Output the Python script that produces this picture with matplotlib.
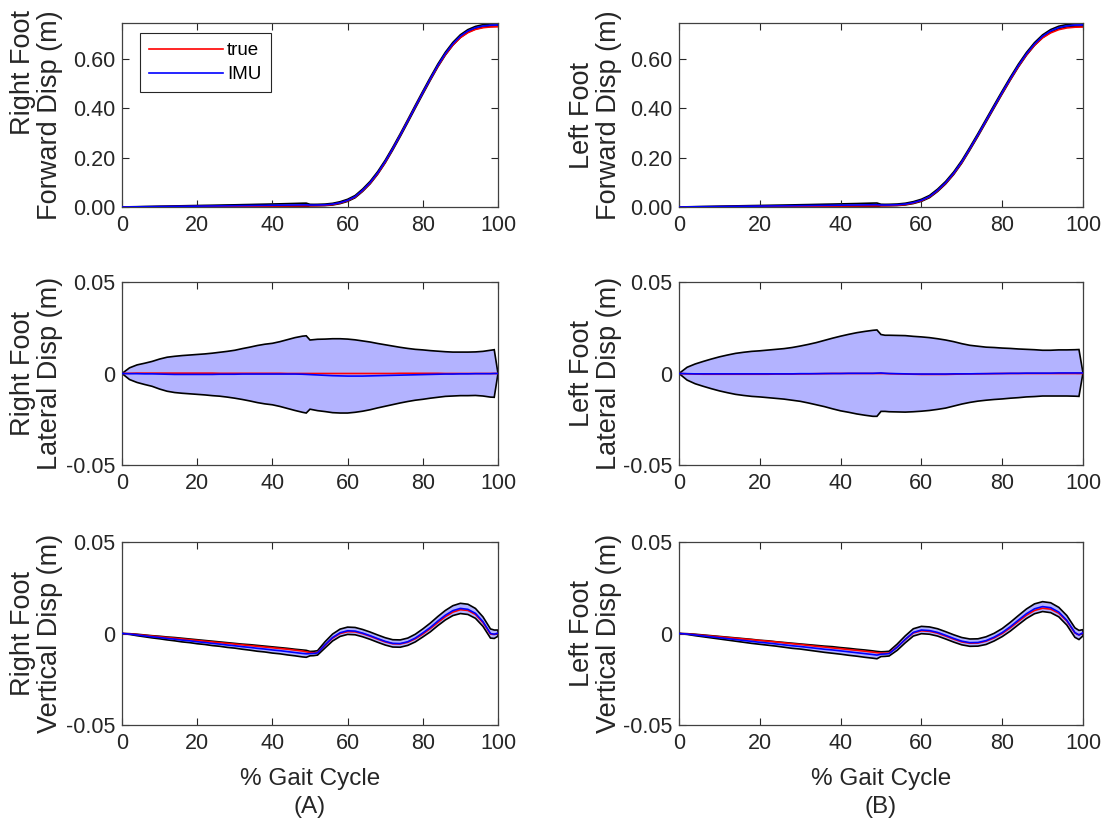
import numpy as np
import matplotlib
matplotlib.use("Agg")
import matplotlib.pyplot as plt

plt.rcParams['font.family'] = ['Liberation Sans', 'DejaVu Sans']
plt.rcParams['axes.unicode_minus'] = False

# % gait cycle sample points
gait_pct = [0, 2, 4, 6, 8, 10, 12, 14, 16, 18,
            20, 22, 24, 26, 28, 30, 32, 34, 36, 38,
            40, 42, 44, 46, 48, 49, 50, 51,
            52, 54, 56, 58, 60, 62, 64, 66, 68, 70,
            72, 74, 76, 78, 80, 82, 84, 86, 88, 90,
            92, 94, 96, 98, 99, 100]

# ---------------- Right foot ----------------
rf_fwd_true = [0, 0.0002, 0.0004, 0.0006, 0.0008, 0.0010, 0.0012, 0.0014, 0.0016, 0.0018,
               0.0020, 0.0022, 0.0024, 0.0026, 0.0028, 0.0030, 0.0032, 0.0034, 0.0036, 0.0038,
               0.0040, 0.0042, 0.0044, 0.0046, 0.0048, 0.0049, 0.0050, 0.0052,
               0.0056, 0.0068, 0.0098, 0.0160, 0.0255, 0.0405, 0.0660, 0.0965, 0.1350, 0.1810,
               0.2350, 0.2905, 0.3480, 0.4055, 0.4620, 0.5170, 0.5700, 0.6170, 0.6560, 0.6860,
               0.7060, 0.7190, 0.7260, 0.7290, 0.7295, 0.7300]
rf_fwd_imu = [0, 0.0004, 0.0007, 0.0011, 0.0014, 0.0018, 0.0021, 0.0025, 0.0028, 0.0032,
              0.0035, 0.0039, 0.0042, 0.0046, 0.0050, 0.0053, 0.0057, 0.0060, 0.0064, 0.0067,
              0.0071, 0.0074, 0.0078, 0.0081, 0.0085, 0.0086, 0.0078, 0.0078,
              0.0080, 0.0088, 0.0115, 0.0175, 0.0270, 0.0420, 0.0680, 0.0990, 0.1380, 0.1840,
              0.2360, 0.2910, 0.3480, 0.4060, 0.4630, 0.5190, 0.5730, 0.6210, 0.6610, 0.6920,
              0.7130, 0.7260, 0.7330, 0.7360, 0.7365, 0.7370]
rf_fwd_sd = [0, 0.0003, 0.0006, 0.0009, 0.0012, 0.0015, 0.0017, 0.0019, 0.0021, 0.0023,
             0.0025, 0.0027, 0.0029, 0.0031, 0.0033, 0.0035, 0.0038, 0.0041, 0.0044, 0.0047,
             0.0050, 0.0054, 0.0058, 0.0063, 0.0068, 0.0070, 0.0030, 0.0028,
             0.0028, 0.0030, 0.0034, 0.0038, 0.0042, 0.0045, 0.0048, 0.0050, 0.0052, 0.0054,
             0.0055, 0.0056, 0.0057, 0.0058, 0.0058, 0.0058, 0.0057, 0.0056, 0.0055, 0.0054,
             0.0053, 0.0052, 0.0052, 0.0052, 0.0052, 0.0052]

rf_lat_true = [0, 0.0001, 0.0002, 0.0002, 0.0002, 0.0002, 0.0002, 0.0002, 0.0002, 0.0002,
               0.0002, 0.0002, 0.0002, 0.0001, 0.0001, 0.0001, 0.0001, 0.0001, 0.0001, 0.0001,
               0.0001, 0.0001, 0, 0, 0, 0, 0, 0,
               0, 0, 0, 0, 0, 0, 0, 0, 0, 0,
               0, 0.0001, 0.0001, 0.0001, 0.0001, 0.0001, 0.0001, 0, 0, 0,
               0, 0, 0, 0, 0, 0]
rf_lat_imu = [0, -0.0001, -0.0001, -0.0002, -0.0002, -0.0003, -0.0004, -0.0005, -0.0005, -0.0005,
              -0.0005, -0.0005, -0.0005, -0.0004, -0.0004, -0.0004, -0.0003, -0.0003, -0.0003, -0.0003,
              -0.0003, -0.0003, -0.0003, -0.0003, -0.0004, -0.0005, -0.0006, -0.0007,
              -0.0008, -0.0010, -0.0012, -0.0013, -0.0014, -0.0014, -0.0014, -0.0013, -0.0012, -0.0011,
              -0.0010, -0.0009, -0.0008, -0.0007, -0.0006, -0.0005, -0.0004, -0.0003, -0.0003, -0.0002,
              -0.0002, -0.0001, -0.0001, -0.0001, 0, 0]
rf_lat_sd = [0, 0.0032, 0.0048, 0.0058, 0.0068, 0.0082, 0.0093, 0.0099, 0.0103, 0.0106,
             0.0109, 0.0112, 0.0116, 0.0120, 0.0125, 0.0131, 0.0139, 0.0147, 0.0156, 0.0163,
             0.0168, 0.0177, 0.0188, 0.0199, 0.0208, 0.0211, 0.0189, 0.0192,
             0.0195, 0.0198, 0.0202, 0.0203, 0.0202, 0.0198, 0.0192, 0.0185, 0.0176, 0.0168,
             0.0160, 0.0152, 0.0145, 0.0139, 0.0135, 0.0130, 0.0126, 0.0122, 0.0120, 0.0119,
             0.0119, 0.0119, 0.0122, 0.0128, 0.0130, 0]

rf_vert_true = [0, -0.0002, -0.0006, -0.0010, -0.0014, -0.0018, -0.0022, -0.0026, -0.0030, -0.0034,
                -0.0038, -0.0042, -0.0046, -0.0050, -0.0054, -0.0058, -0.0062, -0.0066, -0.0070, -0.0074,
                -0.0078, -0.0082, -0.0086, -0.0091, -0.0096, -0.0100, -0.0104, -0.0106,
                -0.0104, -0.0064, -0.0025, 0.0000, 0.0010, 0.0009, -0.0001, -0.0015, -0.0031, -0.0046,
                -0.0056, -0.0057, -0.0048, -0.0029, -0.0003, 0.0027, 0.0060, 0.0092, 0.0117, 0.0130,
                0.0126, 0.0104, 0.0060, -0.0003, -0.0005, 0.0001]
rf_vert_imu = [0, -0.0003, -0.0008, -0.0013, -0.0018, -0.0022, -0.0027, -0.0031, -0.0036, -0.0040,
               -0.0045, -0.0049, -0.0054, -0.0058, -0.0063, -0.0067, -0.0072, -0.0076, -0.0081, -0.0085,
               -0.0090, -0.0094, -0.0099, -0.0104, -0.0109, -0.0111, -0.0110, -0.0109,
               -0.0106, -0.0062, -0.0022, 0.0004, 0.0015, 0.0013, 0.0002, -0.0012, -0.0028, -0.0043,
               -0.0054, -0.0055, -0.0045, -0.0025, 0.0003, 0.0033, 0.0068, 0.0100, 0.0125, 0.0137,
               0.0132, 0.0110, 0.0065, 0.0000, -0.0004, 0.0002]
rf_vert_sd = [0, 0.0002, 0.0004, 0.0005, 0.0006, 0.0007, 0.0008, 0.0009, 0.0010, 0.0010,
              0.0011, 0.0011, 0.0012, 0.0012, 0.0013, 0.0013, 0.0014, 0.0015, 0.0016, 0.0016,
              0.0017, 0.0017, 0.0018, 0.0018, 0.0019, 0.0019, 0.0012, 0.0012,
              0.0012, 0.0017, 0.0019, 0.0020, 0.0020, 0.0020, 0.0020, 0.0020, 0.0020, 0.0020,
              0.0020, 0.0020, 0.0020, 0.0021, 0.0022, 0.0024, 0.0025, 0.0026, 0.0027, 0.0028,
              0.0028, 0.0027, 0.0026, 0.0025, 0.0023, 0.0017]

# ---------------- Left foot ----------------
lf_fwd_true = [0, 0.0002, 0.0004, 0.0006, 0.0008, 0.0010, 0.0012, 0.0014, 0.0016, 0.0018,
               0.0020, 0.0022, 0.0024, 0.0026, 0.0028, 0.0030, 0.0032, 0.0034, 0.0036, 0.0038,
               0.0040, 0.0042, 0.0044, 0.0046, 0.0048, 0.0049, 0.0050, 0.0052,
               0.0056, 0.0068, 0.0098, 0.0160, 0.0255, 0.0405, 0.0655, 0.0960, 0.1345, 0.1805,
               0.2345, 0.2900, 0.3475, 0.4050, 0.4610, 0.5160, 0.5690, 0.6160, 0.6550, 0.6850,
               0.7050, 0.7180, 0.7250, 0.7280, 0.7284, 0.7286]
lf_fwd_imu = [0, 0.0004, 0.0008, 0.0012, 0.0015, 0.0019, 0.0023, 0.0026, 0.0030, 0.0034,
              0.0037, 0.0041, 0.0045, 0.0048, 0.0052, 0.0056, 0.0059, 0.0063, 0.0067, 0.0070,
              0.0074, 0.0078, 0.0081, 0.0085, 0.0089, 0.0090, 0.0080, 0.0079,
              0.0081, 0.0090, 0.0118, 0.0178, 0.0272, 0.0422, 0.0675, 0.0985, 0.1370, 0.1830,
              0.2365, 0.2920, 0.3495, 0.4070, 0.4640, 0.5195, 0.5725, 0.6200, 0.6600, 0.6915,
              0.7130, 0.7265, 0.7335, 0.7365, 0.7370, 0.7372]
lf_fwd_sd = [0, 0.0003, 0.0006, 0.0009, 0.0012, 0.0015, 0.0017, 0.0019, 0.0021, 0.0023,
             0.0025, 0.0027, 0.0029, 0.0031, 0.0033, 0.0036, 0.0039, 0.0042, 0.0045, 0.0048,
             0.0051, 0.0055, 0.0059, 0.0064, 0.0069, 0.0071, 0.0030, 0.0028,
             0.0028, 0.0030, 0.0034, 0.0038, 0.0042, 0.0045, 0.0048, 0.0050, 0.0052, 0.0054,
             0.0055, 0.0056, 0.0057, 0.0058, 0.0058, 0.0058, 0.0057, 0.0056, 0.0055, 0.0055,
             0.0055, 0.0054, 0.0054, 0.0054, 0.0054, 0.0054]

lf_lat_true = [0, -0.0002, -0.0003, -0.0004, -0.0004, -0.0004, -0.0004, -0.0004, -0.0004, -0.0004,
               -0.0004, -0.0004, -0.0003, -0.0003, -0.0003, -0.0002, -0.0002, -0.0001, -0.0001, 0,
               0, 0, 0, 0, 0, 0, 0, 0,
               -0.0001, -0.0002, -0.0003, -0.0004, -0.0005, -0.0005, -0.0005, -0.0005, -0.0004, -0.0003,
               -0.0002, -0.0002, -0.0001, -0.0001, 0, 0, 0, 0, 0, 0,
               0, 0, 0, 0, 0, 0]
lf_lat_imu = [0, -0.0001, -0.0002, -0.0002, -0.0002, -0.0002, -0.0002, -0.0002, -0.0002, -0.0002,
              -0.0002, -0.0002, -0.0002, -0.0002, -0.0002, -0.0001, -0.0001, -0.0001, 0, 0,
              0, 0.0001, 0.0001, 0.0001, 0.0001, 0.0002, 0.0003, 0.0001,
              0, -0.0001, -0.0002, -0.0003, -0.0003, -0.0003, -0.0003, -0.0003, -0.0002, -0.0002,
              -0.0002, -0.0001, -0.0001, 0, 0, 0.0001, 0.0001, 0.0002, 0.0002, 0.0002,
              0.0002, 0.0003, 0.0003, 0.0003, 0.0003, 0.0003]
lf_lat_sd = [0, 0.0035, 0.0054, 0.0068, 0.0081, 0.0093, 0.0103, 0.0112, 0.0118, 0.0123,
             0.0126, 0.0130, 0.0134, 0.0138, 0.0144, 0.0151, 0.0160, 0.0170, 0.0181, 0.0193,
             0.0204, 0.0213, 0.0222, 0.0229, 0.0235, 0.0236, 0.0210, 0.0208,
             0.0209, 0.0209, 0.0209, 0.0206, 0.0203, 0.0199, 0.0193, 0.0186, 0.0176, 0.0165,
             0.0156, 0.0150, 0.0145, 0.0142, 0.0139, 0.0136, 0.0133, 0.0130, 0.0128, 0.0125,
             0.0125, 0.0126, 0.0126, 0.0127, 0.0128, 0]

lf_vert_true = [0, -0.0002, -0.0006, -0.0010, -0.0014, -0.0018, -0.0022, -0.0026, -0.0030, -0.0034,
                -0.0038, -0.0042, -0.0046, -0.0051, -0.0056, -0.0060, -0.0065, -0.0070, -0.0074, -0.0079,
                -0.0083, -0.0088, -0.0092, -0.0097, -0.0102, -0.0105, -0.0107, -0.0108,
                -0.0107, -0.0074, -0.0033, 0.0003, 0.0015, 0.0012, 0.0002, -0.0014, -0.0031, -0.0046,
                -0.0053, -0.0052, -0.0042, -0.0024, 0.0000, 0.0031, 0.0066, 0.0100, 0.0126, 0.0138,
                0.0133, 0.0111, 0.0068, 0.0003, -0.0008, 0.0003]
lf_vert_imu = [0, -0.0003, -0.0008, -0.0013, -0.0018, -0.0023, -0.0028, -0.0033, -0.0038, -0.0043,
               -0.0048, -0.0052, -0.0057, -0.0062, -0.0067, -0.0071, -0.0076, -0.0081, -0.0086, -0.0090,
               -0.0095, -0.0100, -0.0105, -0.0110, -0.0115, -0.0118, -0.0113, -0.0112,
               -0.0110, -0.0075, -0.0032, 0.0006, 0.0019, 0.0016, 0.0006, -0.0010, -0.0027, -0.0042,
               -0.0050, -0.0049, -0.0039, -0.0020, 0.0005, 0.0037, 0.0073, 0.0108, 0.0135, 0.0147,
               0.0141, 0.0117, 0.0072, 0.0005, -0.0008, 0.0004]
lf_vert_sd = [0, 0.0002, 0.0004, 0.0005, 0.0006, 0.0007, 0.0008, 0.0009, 0.0010, 0.0011,
              0.0011, 0.0012, 0.0012, 0.0013, 0.0014, 0.0014, 0.0015, 0.0016, 0.0017, 0.0018,
              0.0018, 0.0019, 0.0019, 0.0020, 0.0020, 0.0020, 0.0013, 0.0013,
              0.0013, 0.0017, 0.0019, 0.0020, 0.0020, 0.0020, 0.0020, 0.0020, 0.0020, 0.0020,
              0.0020, 0.0020, 0.0021, 0.0021, 0.0022, 0.0024, 0.0025, 0.0026, 0.0027, 0.0027,
              0.0027, 0.0026, 0.0026, 0.0026, 0.0025, 0.0017]

row_labels_rf = ['Right Foot\nForward Disp (m)', 'Right Foot\nLateral Disp (m)',
                 'Right Foot\nVertical Disp (m)']
row_labels_lf = ['Left Foot\nForward Disp (m)', 'Left Foot\nLateral Disp (m)',
                 'Left Foot\nVertical Disp (m)']
column_tags = ['(A)', '(B)']
x_ticks = [0, 20, 40, 60, 80, 100]
fwd_ticks = [0.0, 0.2, 0.4, 0.6]
fwd_tick_labels = ['0.00', '0.20', '0.40', '0.60']
disp_ticks = [-0.05, 0.0, 0.05]
disp_tick_labels = ['-0.05', '0', '0.05']

TEXT = '#262626'
BAND = '#b3b3ff'

fig = plt.figure(figsize=(11.17, 8.21), dpi=100)
W, H = 1117.0, 821.0
col_px = [(122, 376), (679, 404)]           # left edge, width
row_px = [(23, 184), (282, 183), (542, 183)]  # top edge, height
label_x = [-0.157, -0.141]

data = [
    [(rf_fwd_true, rf_fwd_imu, rf_fwd_sd), (rf_lat_true, rf_lat_imu, rf_lat_sd),
     (rf_vert_true, rf_vert_imu, rf_vert_sd)],
    [(lf_fwd_true, lf_fwd_imu, lf_fwd_sd), (lf_lat_true, lf_lat_imu, lf_lat_sd),
     (lf_vert_true, lf_vert_imu, lf_vert_sd)],
]
labels = [row_labels_rf, row_labels_lf]

x = np.asarray(gait_pct, dtype=float)

for c in range(2):
    for r in range(3):
        l, w = col_px[c]
        t, h = row_px[r]
        ax = fig.add_axes([l / W, 1 - (t + h) / H, w / W, h / H])
        true_v, imu_v, sd_v = (np.asarray(a, dtype=float) for a in data[c][r])
        hi = imu_v + sd_v
        lo = imu_v - sd_v
        ax.fill(np.concatenate([x, x[::-1]]), np.concatenate([hi, lo[::-1]]),
                facecolor=BAND, edgecolor='black', linewidth=1.2, zorder=1)
        h_true, = ax.plot(x, true_v, color='red', linewidth=1.2, zorder=2, label='true')
        h_imu, = ax.plot(x, imu_v, color='blue', linewidth=1.2, zorder=3, label='IMU')

        ax.set_xlim(0, 100)
        ax.set_xticks(x_ticks)
        if r == 0:
            ax.set_ylim(0, 0.745)
            ax.set_yticks(fwd_ticks)
            ax.set_yticklabels(fwd_tick_labels)
        else:
            ax.set_ylim(-0.05, 0.05)
            ax.set_yticks(disp_ticks)
            ax.set_yticklabels(disp_tick_labels)

        ax.tick_params(direction='in', length=5, width=0.8, top=True, right=True,
                       labelsize=15.5, colors=TEXT, pad=6)
        ax.tick_params(axis='y', pad=5)
        for sp in ax.spines.values():
            sp.set_color('#404040')
            sp.set_linewidth(0.9)

        malign = 'right' if (c == 0 and r == 0) else 'center'
        ax.set_ylabel(labels[c][r], fontsize=19.5, color=TEXT, multialignment=malign,
                      linespacing=1.05)
        ax.yaxis.set_label_coords(label_x[c], 0.5)

        if r == 2:
            ax.set_xlabel('% Gait Cycle\n' + column_tags[c], fontsize=17.5, color=TEXT,
                          linespacing=1.35, va='top')
            ax.xaxis.set_label_coords(0.5, -0.236)

        if c == 0 and r == 0:
            leg = ax.legend(handles=[h_true, h_imu], loc='upper left',
                            bbox_to_anchor=(0.048, 0.946), borderaxespad=0,
                            fontsize=13.5, handlelength=3.9, fancybox=False,
                            framealpha=1, edgecolor=TEXT, borderpad=0.5,
                            labelspacing=0.35, handletextpad=0.25)
            leg.get_frame().set_linewidth(0.8)

fig.savefig('out.png', dpi=100)
